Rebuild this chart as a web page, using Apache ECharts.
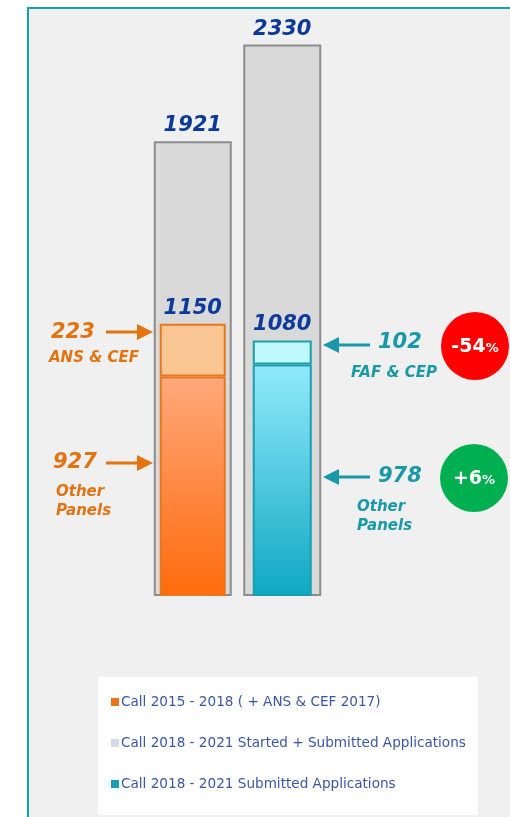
<!DOCTYPE html>
<html>
<head>
<meta charset="utf-8">
<script src="https://cdn.jsdelivr.net/npm/echarts@6/dist/echarts.min.js"></script>
<style>
  html, body { margin: 0; padding: 0; background: #fff; }
  #panel {
    position: absolute; left: 27px; top: 7px; width: 520px; height: 830px;
    background: #f0f0f0; border: 2px solid #17a0ae; box-sizing: border-box;
  }
  #chart { position: absolute; left: 0; top: 0; width: 510px; height: 817px; }
</style>
</head>
<body>
<div id="panel"></div>
<div id="chart"></div>
<script>
// data
var calls = ["2015 - 2018", "2018 - 2021"];
var panelTotals = [1921, 2330];      // grey bars, started + submitted
var otherPanels = [927, 978];        // lower part of inner bars
var specialPanels = [223, 102];      // upper part of inner bars
var specialNames = ["ANS & CEF", "FAF & CEP"];
var changes = [-54, 6];              // % change, second call vs first
var legendNames = [
  "Call 2015 - 2018 ( + ANS & CEF 2017)",
  "Call 2018 - 2021 Started + Submitted Applications",
  "Call 2018 - 2021 Submitted Applications"
];

var FONT = '"DejaVu Sans", Verdana, sans-serif';
var ORANGE = "#e3730f";
var TEAL = "#1898a8";
var NAVY = "#0b3a9c";

function numLabel() {
  return {
    show: true, position: "top", distance: 5,
    color: NAVY, fontFamily: FONT, fontSize: 21,
    fontWeight: "bold", fontStyle: "italic"
  };
}

function onlyAt(arr, i) {
  return arr.map(function (v, k) { return k === i ? v : "-"; });
}

function arrow(x1, x2, y, color) {
  // x2 is the tip
  var dir = x2 > x1 ? 1 : -1;
  var base = x2 - dir * 16;
  return [
    { type: "line", shape: { x1: x1, y1: y, x2: base, y2: y },
      style: { stroke: color, lineWidth: 3 } },
    { type: "polygon", shape: { points: [[base, y - 8], [x2, y], [base, y + 8]] },
      style: { fill: color } }
  ];
}

function txt(s, x, y, color, size, align) {
  return {
    type: "text",
    style: {
      text: s, x: x, y: y, fill: color, textAlign: align || "left",
      verticalAlign: "middle",
      font: "italic bold " + size + "px " + FONT
    }
  };
}

function badge(cx, cy, val, color) {
  var s = (val > 0 ? "+" : "") + val;
  return [
    { type: "circle", shape: { cx: cx, cy: cy, r: 34 }, style: { fill: color } },
    { type: "text", style: {
        text: "{a|" + s + "}{b|%}", x: cx, y: cy + 1,
        textAlign: "center", verticalAlign: "middle",
        rich: {
          a: { fill: "#fff", fontFamily: FONT, fontWeight: "bold", fontSize: 19 },
          b: { fill: "#fff", fontFamily: FONT, fontWeight: "bold", fontSize: 13, padding: [3, 0, 0, 0] }
        }
    } }
  ];
}

var graphics = []
  .concat(arrow(106, 153, 332, ORANGE))
  .concat(arrow(106, 153, 463, ORANGE))
  .concat(arrow(370, 323, 345, TEAL))
  .concat(arrow(370, 323, 477, TEAL))
  .concat([
    txt(String(specialPanels[0]), 51, 333, ORANGE, 21),
    txt(specialNames[0], 49, 358, ORANGE, 15),
    txt(String(otherPanels[0]), 53, 463, ORANGE, 21),
    txt("Other", 56, 492, ORANGE, 15),
    txt("Panels", 56, 511, ORANGE, 15),
    txt(String(specialPanels[1]), 378, 343, TEAL, 21),
    txt(specialNames[1], 351, 373, TEAL, 15),
    txt(String(otherPanels[1]), 378, 477, TEAL, 21),
    txt("Other", 357, 507, TEAL, 15),
    txt("Panels", 357, 526, TEAL, 15)
  ])
  .concat(badge(475, 346, changes[0], "#ff0000"))
  .concat(badge(474, 478, changes[1], "#00b050"));

var chart = echarts.init(document.getElementById("chart"));
var option = {
  animation: false,
  grid: { left: 148, right: 183, top: 28, bottom: 221 },
  xAxis: [0, 1, 2].map(function () {
    return { type: "category", data: calls, show: false };
  }),
  yAxis: { type: "value", min: 0, max: 2400, show: false },
  legend: {
    left: 98, top: 677, orient: "vertical",
    backgroundColor: "#fff",
    padding: [18, 12, 24, 13],
    itemGap: 27, itemWidth: 8, itemHeight: 8, icon: "rect",
    selectedMode: false,
    itemStyle: { borderWidth: 0 },
    textStyle: { color: "#3a56a6", fontFamily: FONT, fontSize: 13.6, lineHeight: 14, padding: [0, 0, 0, -3] },
    data: [
      { name: legendNames[0], itemStyle: { color: "#e8751a" } },
      { name: legendNames[1], itemStyle: { color: "#d3dbea" } },
      { name: legendNames[2], itemStyle: { color: "#1a9fb0" } }
    ]
  },
  series: [
    {
      name: legendNames[1], type: "bar", xAxisIndex: 0, barWidth: 78,
      data: panelTotals,
      itemStyle: { color: "#d9d9d9", borderColor: "#8c8c8c", borderWidth: 2 },
      label: numLabel()
    },
    {
      name: legendNames[0], type: "bar", xAxisIndex: 1, stack: "old", barWidth: 66,
      data: onlyAt(otherPanels, 0),
      itemStyle: {
        borderColor: "#e8771f", borderWidth: 2,
        color: new echarts.graphic.LinearGradient(0, 0, 0, 1, [
          { offset: 0, color: "#ffa87b" }, { offset: 1, color: "#ff6b0c" }
        ])
      }
    },
    {
      name: "ANS & CEF", type: "bar", xAxisIndex: 1, stack: "old", barWidth: 66,
      data: onlyAt(specialPanels, 0),
      itemStyle: { color: "#f9c592", borderColor: "#e8771f", borderWidth: 2 },
      label: Object.assign(numLabel(), {
        formatter: function (p) { return otherPanels[p.dataIndex] + specialPanels[p.dataIndex]; }
      })
    },
    {
      name: legendNames[2], type: "bar", xAxisIndex: 2, stack: "new", barWidth: 59,
      data: onlyAt(otherPanels, 1),
      itemStyle: {
        borderColor: "#18a0b0", borderWidth: 2,
        color: new echarts.graphic.LinearGradient(0, 0, 0, 1, [
          { offset: 0, color: "#92eafc" }, { offset: 1, color: "#0fa8c2" }
        ])
      }
    },
    {
      name: "FAF & CEP", type: "bar", xAxisIndex: 2, stack: "new", barWidth: 59,
      data: onlyAt(specialPanels, 1),
      itemStyle: { color: "#bff8fd", borderColor: "#18a0b0", borderWidth: 2 },
      label: Object.assign(numLabel(), {
        formatter: function (p) { return otherPanels[p.dataIndex] + specialPanels[p.dataIndex]; }
      })
    }
  ],
  graphic: graphics
};
chart.setOption(option);
</script>
</body>
</html>
